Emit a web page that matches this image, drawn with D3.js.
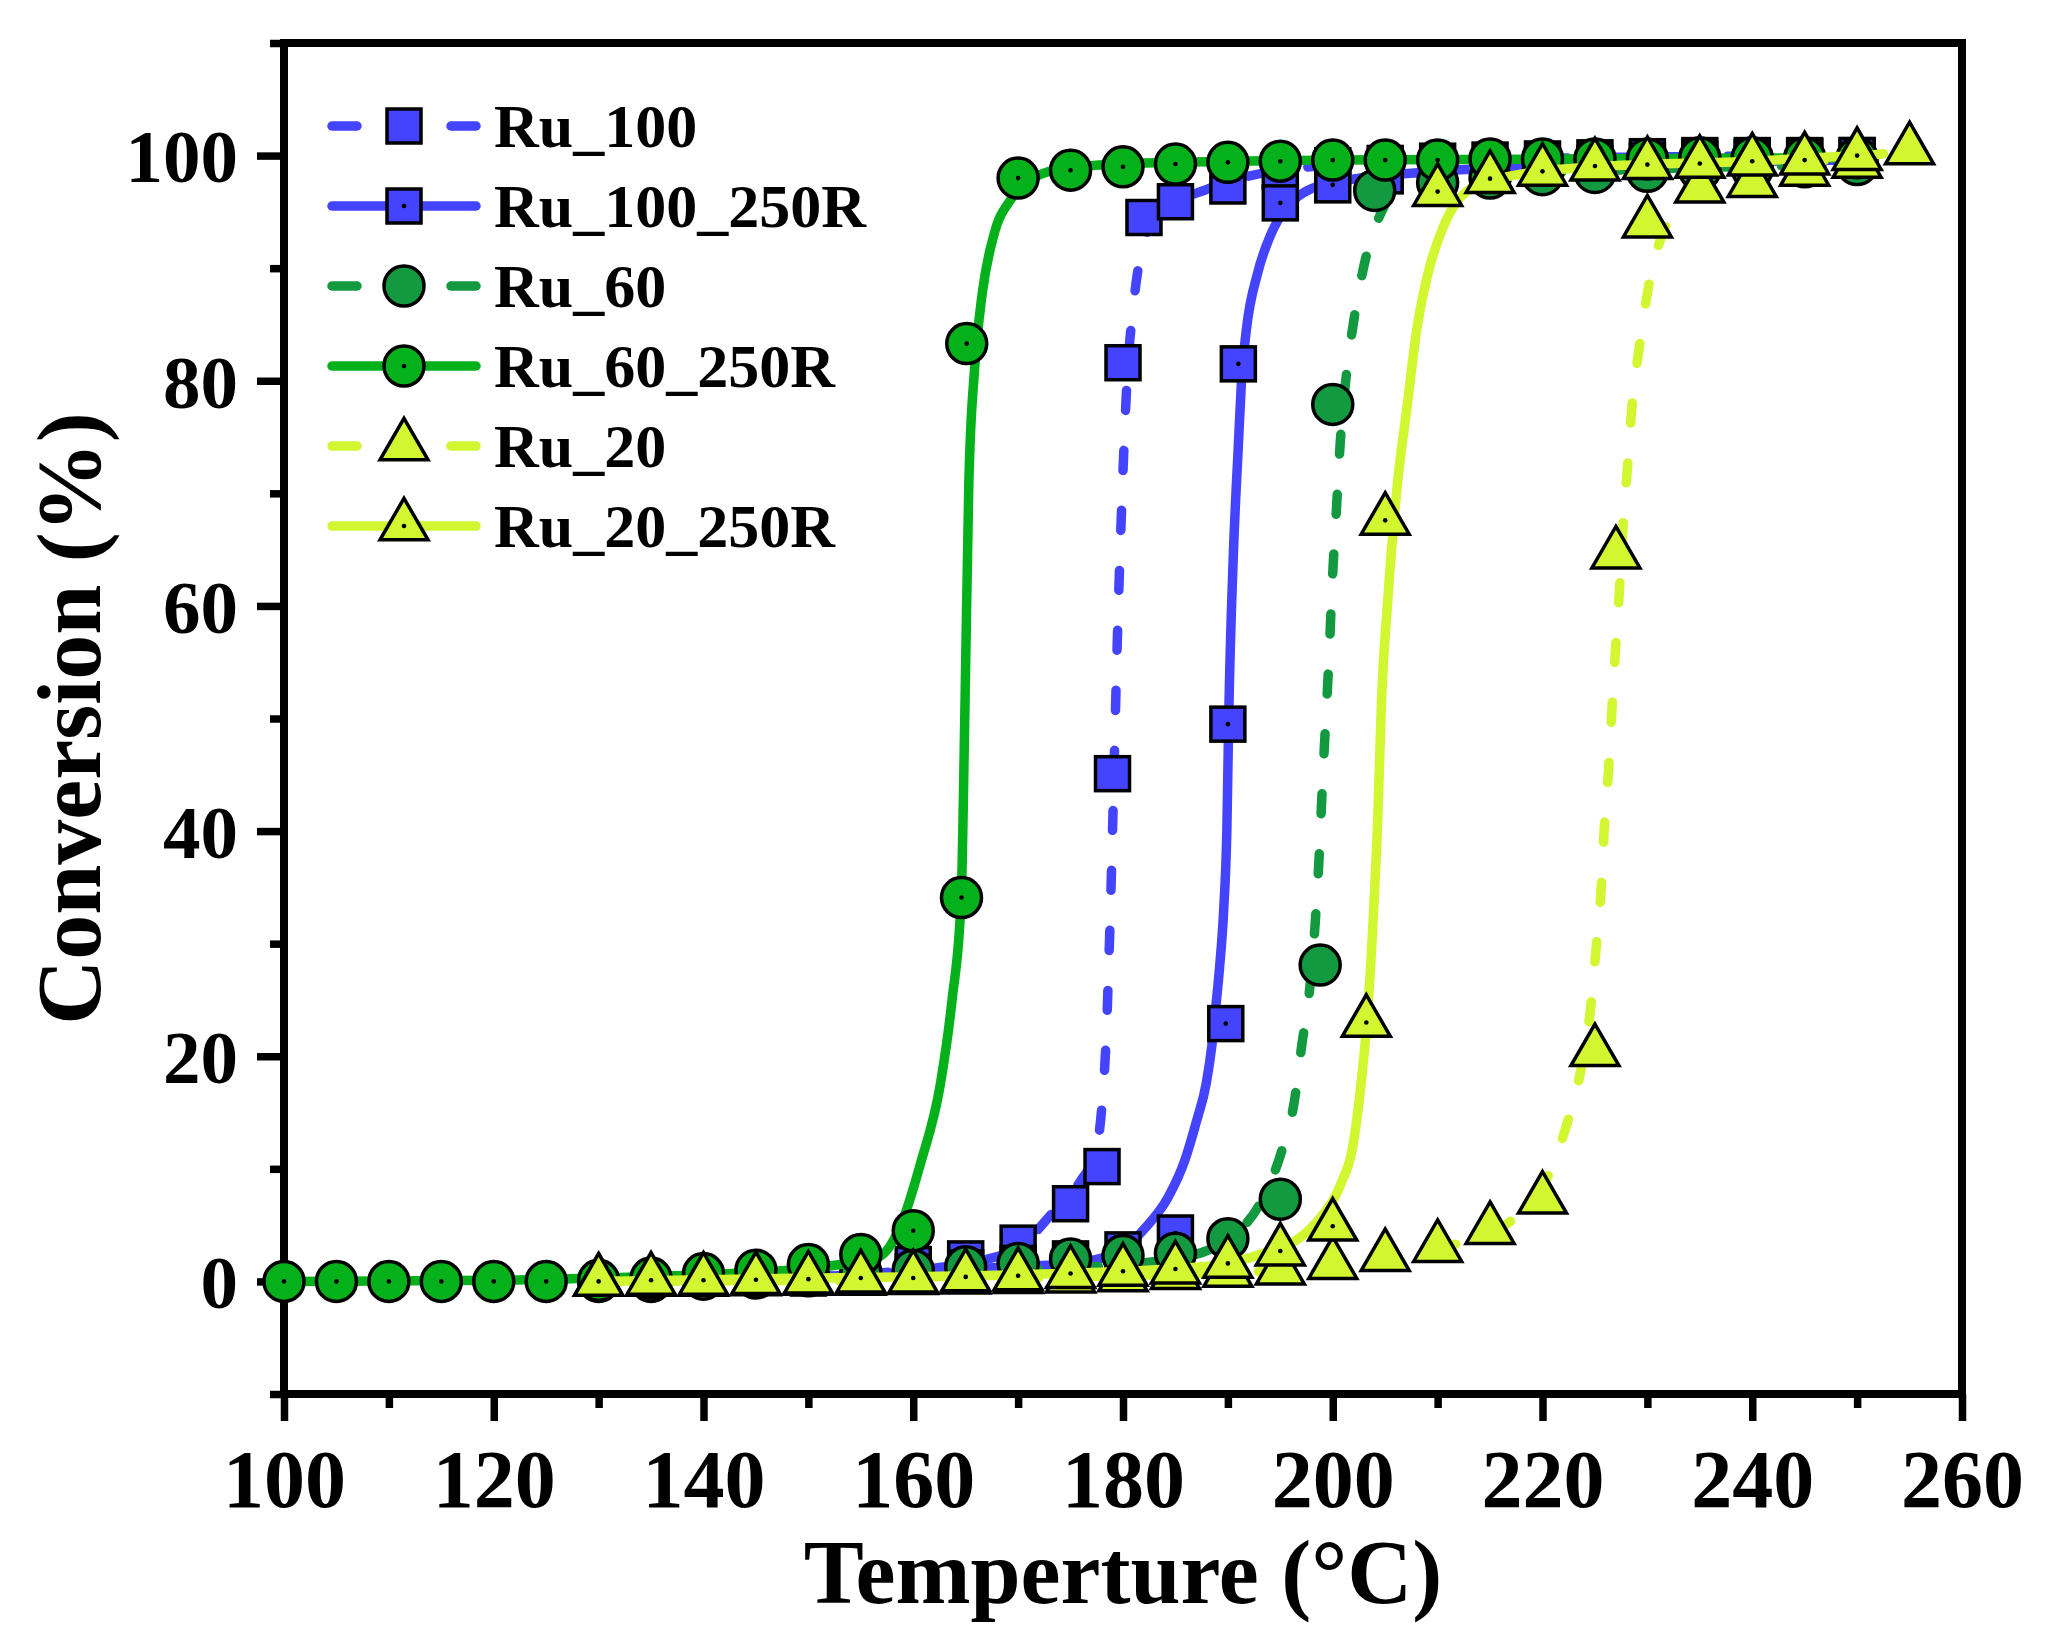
<!DOCTYPE html>
<html><head><meta charset="utf-8">
<script src="https://cdn.jsdelivr.net/npm/d3@7"></script>
<style>html,body{margin:0;padding:0;background:#fff;} svg{display:block}</style>
</head><body>
<svg id="chart" width="2052" height="1652"></svg>
<script>
// ---------------- data ----------------
const seriesNames = ["Ru_100", "Ru_100_250R", "Ru_60", "Ru_60_250R", "Ru_20", "Ru_20_250R"];
const xTickLabels = [100, 120, 140, 160, 180, 200, 220, 240, 260];
const xMinorTicks = [110, 130, 150, 170, 190, 210, 230, 250];
const yTickLabels = [0, 20, 40, 60, 80, 100];
const yMinorTicks = [-10, 10, 30, 50, 70, 90, 110];

// measured points
const ru100T = [150,155,160,165,170,175,178,179,180,182,185,190,195,200,205,210,215,220,225,230,235,240,245,250];
const ru100V = [0.5,0.8,1.5,2.0,3.4,6.9,10.2,45.1,81.6,94.5,95.9,97.3,98.6,99.1,99.3,99.5,99.6,99.7,99.8,99.9,100,100,100,100];

const ru100RT = [150,155,160,165,170,175,180,185,189.8,190,191,195,200,205,210,215,220,225,230,235,240,245,250];
const ru100RV = [0.3,0.5,0.8,1.2,1.6,2.0,2.8,4.3,22.9,49.5,81.5,95.8,97.4,98.2,98.6,98.9,99.1,99.3,99.5,99.7,99.8,99.9,100];

const ru60T = [130,135,140,145,150,155,160,165,170,175,180,185,190,195,198.8,200,204,210,215,220,225,230,235,240,245,250];
const ru60V = [0,0,0.2,0.3,0.5,0.8,1.0,1.3,1.6,2.0,2.3,2.5,3.8,7.3,28.1,77.9,96.9,97.6,98,98.3,98.5,98.6,98.7,98.8,99,99.2];

const ru60RT = [100,105,110,115,120,125,130,135,140,145,150,155,160,164.6,165.1,170,175,180,185,190,195,200,205,210,215,220,225,230,235,240,245,250];
const ru60RV = [0,0,0,0,0,0,0.1,0.3,0.7,1.0,1.5,2.4,4.5,34.1,83.3,98,98.7,99,99.25,99.4,99.5,99.6,99.6,99.6,99.7,99.7,99.7,99.7,99.8,99.8,99.8,99.8];

const ru20T = [130,135,140,145,150,155,160,165,170,175,180,185,190,195,200,205,210,215,220,225,227,230,235,240,245,250,255];
const ru20V = [0,0,0,0.05,0.1,0.1,0.15,0.2,0.25,0.3,0.4,0.6,0.8,1.0,1.5,2.2,3.0,4.6,7.3,20.4,64.6,94.0,97.1,97.6,98.6,99.3,100.5];

const ru20RT = [130,135,140,145,150,155,160,165,170,175,180,185,190,195,200,203.2,205,210,215,220,225,230,235,240,245,250];
const ru20RV = [0,0.1,0.1,0.15,0.2,0.3,0.3,0.4,0.5,0.7,0.9,1.1,1.6,2.7,4.9,23,67.6,96.8,97.95,98.6,99.07,99.2,99.3,99.5,99.6,100];

// fitted curves as [temperature, conversion]
const ru100Fit = [[150,0.5],[160,1.0],[165,1.6],[170,3.0],[173.3,6.1],[176,9],[177.4,11.5],[178.05,16.3],[178.4,21.7],[178.6,27],[178.8,33],[179.0,40],[179.2,47.5],[179.4,55],[179.7,64.2],[180.1,74.3],[180.45,81.1],[180.9,85.9],[181.7,91.3],[183,94.3],[185,95.8],[188,97],[195,98.7],[210,99.6],[250,100]];
const ru100RFit = [[150,0.4],[160,0.8],[169.7,1.33],[174.06,1.5],[177.7,2.0],[180.27,3.03],[182.1,4.73],[184.29,7.45],[185.93,10.85],[187.0,14.2],[187.94,17.6],[188.48,21.0],[188.85,24.4],[189.2,27.8],[189.6,33],[189.9,40],[190.1,51],[190.5,64],[191.0,74.3],[191.3,80],[191.76,84.5],[192.85,89.6],[194.1,93],[195.6,95.4],[197.4,96.8],[200,97.6],[210,98.6],[230,99.3],[250,99.6]];
const ru60Fit = [[130,0],[150,0.3],[170,1.0],[182.5,1.7],[187.9,2.7],[191.2,4.6],[193,6.8],[195.23,11.9],[196.33,15.95],[197.05,21],[197.8,26],[198.33,31.9],[198.7,37.7],[198.95,42.8],[199.25,48.4],[199.6,54.6],[199.97,62.4],[200.35,68.6],[200.7,74.3],[201.25,80.1],[201.98,85.2],[203.07,90.6],[204.5,94.7],[206,96.8],[210,97.8],[220,98.4],[250,99.2]];
const ru60RFit = [[100,0],[120,0.1],[130,0.3],[140,0.6],[148,1.0],[153,1.5],[156.75,2.2],[158.9,5.2],[160.7,10.5],[162.6,17.6],[163.7,25],[164.57,34],[164.94,51.6],[165.3,70.9],[165.85,81.1],[166.6,87.9],[167.7,93],[169.3,96.1],[171.1,97.8],[174,98.8],[180.6,99.3],[200,99.6],[250,99.8]];
const ru20Fit = [[130,0],[150,0.1],[170,0.3],[190,0.8],[200,1.2],[206.4,1.84],[211.9,3.37],[216.8,5.24],[220.6,9.5],[222.3,13.9],[223.7,19],[224.6,24.4],[225.1,29.5],[225.6,35],[225.9,40.4],[226.3,45.5],[226.6,50.5],[227.0,56.7],[227.4,62.4],[227.7,67.5],[228.1,72.3],[228.5,77.4],[229.2,82.8],[230.1,88.3],[231.9,94],[235,97],[240,98.6],[245,99.3],[250,99.9],[255,100.4]];
const ru20RFit = [[130,0],[150,0.3],[170,0.6],[187.9,1.33],[193.4,2.5],[197.1,4.05],[198.9,5.75],[200.7,8.5],[202,12.5],[202.7,17.6],[203.25,23],[203.8,31.2],[204.3,41.4],[204.65,51.6],[205.26,60.7],[206.17,70.9],[207.09,77.7],[208,84.5],[209.1,89.6],[210.55,93.7],[212.75,96.8],[216,98],[225,99],[240,99.5],[250,100]];

// ---------------- styling ----------------
const BLUE = "#4444ff", DGREEN = "#139a41", GREEN = "#04b11a", YELLOW = "#d2f630";
const series = [
  {name: seriesNames[0], T: ru100T,  V: ru100V,  fit: ru100Fit,  color: BLUE,   dashed: true,  shape: "square",   dot: false},
  {name: seriesNames[1], T: ru100RT, V: ru100RV, fit: ru100RFit, color: BLUE,   dashed: false, shape: "square",   dot: true},
  {name: seriesNames[2], T: ru60T,   V: ru60V,   fit: ru60Fit,   color: DGREEN, dashed: true,  shape: "circle",   dot: false},
  {name: seriesNames[3], T: ru60RT,  V: ru60RV,  fit: ru60RFit,  color: GREEN,  dashed: false, shape: "circle",   dot: true},
  {name: seriesNames[4], T: ru20T,   V: ru20V,   fit: ru20Fit,   color: YELLOW, dashed: true,  shape: "triangle", dot: false},
  {name: seriesNames[5], T: ru20RT,  V: ru20RV,  fit: ru20RFit,  color: YELLOW, dashed: false, shape: "triangle", dot: true}
];

const FONT = "'Liberation Serif','Times New Roman',Times,serif";
const L = 284, R = 1962, T0 = 43, B = 1394;
const LW = 9.5;
const svg = d3.select("#chart");
const x = d3.scaleLinear().domain([100, 260]).range([L, R]);
const y = d3.scaleLinear().domain([-10, 110]).range([B, T0]);

// ---------------- axes ----------------
const AX_W = 7.5;
function styleAxis(g) {
  g.select(".domain").remove();
  g.selectAll(".tick line").attr("stroke", "#000").attr("stroke-width", AX_W);
  g.selectAll(".tick text").attr("fill", "#000").attr("font-family", FONT).attr("font-weight", "bold");
}
const gx = svg.append("g").attr("transform", `translate(0,${B})`)
  .call(d3.axisBottom(x).tickValues(xTickLabels).tickSize(27).tickSizeOuter(0).tickFormat(d3.format("d")));
styleAxis(gx);
gx.selectAll(".tick text").attr("font-size", 82).attr("y", 113).attr("dy", 0);
const gxm = svg.append("g").attr("transform", `translate(0,${B})`)
  .call(d3.axisBottom(x).tickValues(xMinorTicks).tickSize(14).tickSizeOuter(0).tickFormat(""));
styleAxis(gxm);

const gy = svg.append("g").attr("transform", `translate(${L},0)`)
  .call(d3.axisLeft(y).tickValues(yTickLabels).tickSize(27).tickSizeOuter(0).tickFormat(d3.format("d")));
styleAxis(gy);
gy.selectAll(".tick text").attr("font-size", 75).attr("x", -46).attr("dy", "0.35em");
const gym = svg.append("g").attr("transform", `translate(${L},0)`)
  .call(d3.axisLeft(y).tickValues(yMinorTicks).tickSize(14).tickSizeOuter(0).tickFormat(""));
styleAxis(gym);

// frame
svg.append("rect").attr("x", L).attr("y", T0).attr("width", R - L).attr("height", B - T0)
  .attr("fill", "none").attr("stroke", "#000").attr("stroke-width", 8);

// axis titles
svg.append("text").attr("x", (L + R) / 2).attr("y", 1603).attr("text-anchor", "middle")
  .attr("font-family", FONT).attr("font-weight", "bold").attr("font-size", 90).text("Temperture (°C)");
svg.append("text").attr("transform", `translate(100,${(T0 + B) / 2}) rotate(-90)`).attr("text-anchor", "middle")
  .attr("font-family", FONT).attr("font-weight", "bold").attr("font-size", 90).text("Conversion (%)");

// ---------------- markers ----------------
const SQ = 34, CR = 20, TS = 48, MSW = 3.5;
function drawMarker(g, shape, color, dot, cx, cy) {
  if (shape === "square") {
    g.append("rect").attr("x", cx - SQ / 2).attr("y", cy - SQ / 2).attr("width", SQ).attr("height", SQ)
      .attr("fill", color).attr("stroke", "#000").attr("stroke-width", MSW);
  } else if (shape === "circle") {
    g.append("circle").attr("cx", cx).attr("cy", cy).attr("r", CR)
      .attr("fill", color).attr("stroke", "#000").attr("stroke-width", MSW);
  } else {
    const h = TS * Math.sqrt(3) / 2;
    const pts = [[cx, cy - 2 * h / 3], [cx + TS / 2, cy + h / 3], [cx - TS / 2, cy + h / 3]];
    g.append("polygon").attr("points", pts.map(p => p.join(",")).join(" "))
      .attr("fill", color).attr("stroke", "#000").attr("stroke-width", MSW).attr("stroke-linejoin", "miter");
  }
  if (dot) g.append("circle").attr("cx", cx).attr("cy", cy).attr("r", 2.3).attr("fill", "#000");
}

// ---------------- plot ----------------
const line = d3.line().x(d => x(d[0])).y(d => y(d[1])).curve(d3.curveMonotoneX);
const plot = svg.append("g");
series.forEach(s => {
  const g = plot.append("g");
  g.append("path").attr("d", line(s.fit)).attr("fill", "none").attr("stroke", s.color)
    .attr("stroke-width", LW).attr("stroke-linecap", "round").attr("stroke-linejoin", "round")
    .attr("stroke-dasharray", s.dashed ? "20,40" : null);
  s.T.forEach((t, i) => drawMarker(g, s.shape, s.color, s.dot, x(t), y(s.V[i])));
});

// ---------------- legend ----------------
const leg = svg.append("g");
series.forEach((s, i) => {
  const cy = 126 + 80 * i;
  const g = leg.append("g");
  if (s.dashed) {
    [[332, 357], [451, 476]].forEach(([a, b]) => g.append("line").attr("x1", a).attr("x2", b).attr("y1", cy).attr("y2", cy)
      .attr("stroke", s.color).attr("stroke-width", LW).attr("stroke-linecap", "round"));
  } else {
    g.append("line").attr("x1", 332).attr("x2", 476).attr("y1", cy).attr("y2", cy)
      .attr("stroke", s.color).attr("stroke-width", LW).attr("stroke-linecap", "round");
  }
  drawMarker(g, s.shape, s.color, s.dot, 404, cy);
  g.append("text").attr("x", 494).attr("y", cy + 21).attr("font-family", FONT).attr("font-weight", "bold")
    .attr("font-size", 62).text(s.name);
});
</script>
</body></html>
